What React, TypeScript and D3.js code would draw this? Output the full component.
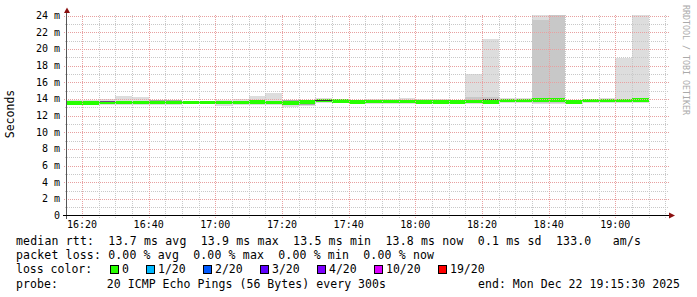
import React from "react";
import * as d3 from "d3";

const W = 697;
const H = 297;

const startTime = Date.UTC(2025, 11, 22, 16, 15, 30);
const endTime = Date.UTC(2025, 11, 22, 19, 15, 30);
const firstBar = Date.UTC(2025, 11, 22, 16, 15, 0);
const STEP = 300000;

// median rtt per 5-minute step (ms)
const medians = [13.52, 13.52, 13.55, 13.55, 13.55, 13.55, 13.55, 13.55, 13.55, 13.55, 13.58, 13.6, 13.55, 13.5, 13.65, 13.82, 13.75, 13.6, 13.7, 13.7, 13.7, 13.65, 13.65, 13.65, 13.7, 13.65, 13.8, 13.82, 13.85, 13.85, 13.6, 13.8, 13.82, 13.82, 13.85];
// outer smoke (min / max ping)
const outerLo = [13.3, 13.3, 13.3, 13.3, 13.3, 13.3, 13.3, 13.35, 13.35, 13.15, 13.25, 13.3, 13.3, 13.04, 13.16, 13.45, 13.45, 13.4, 13.42, 13.4, 13.42, 13.42, 13.42, 13.42, 13.42, 13.42, 13.5, 13.45, 13.36, 13.4, 13.4, 13.45, 13.45, 13.45, 13.45];
const outerHi = [13.92, 13.92, 14.04, 14.36, 14.24, 13.92, 13.92, 13.68, 13.68, 13.92, 14.04, 14.3, 14.68, 13.92, 13.92, 14.15, 14.02, 13.92, 14.04, 14.04, 14.12, 14.04, 14.04, 13.92, 17.04, 21.24, 14.12, 14.12, 26, 26, 13.92, 14.04, 14.16, 18.9, 26];
// second smoke layer
const midLo = [13.4, 13.4, 13.42, 13.42, 13.42, 13.42, 13.42, 13.45, 13.45, 13.38, 13.4, 13.38, 13.42, 13.35, 13.38, 13.6, 13.55, 13.45, 13.5, 13.5, 13.5, 13.5, 13.5, 13.5, 13.5, 13.5, 13.6, 13.6, 13.5, 13.5, 13.5, 13.6, 13.6, 13.6, 13.6];
const midHi = [13.7, 13.7, 13.75, 13.75, 13.8, 13.8, 13.8, 13.65, 13.65, 13.72, 13.75, 13.75, 13.75, 13.75, 13.8, 13.92, 13.88, 13.78, 13.85, 13.85, 13.85, 13.82, 13.82, 13.8, 14.24, 14.2, 13.95, 13.95, 23.5, 26, 13.78, 13.92, 13.95, 13.95, 14.0];
// inner (darkest) smoke layer
const innerLo = [13.52, 13.52, 13.55, 13.55, 13.55, 13.55, 13.55, 13.55, 13.55, 13.55, 13.58, 13.35, 13.55, 13.5, 13.3, 13.82, 13.75, 13.6, 13.7, 13.7, 13.7, 13.65, 13.65, 13.65, 13.7, 13.65, 13.8, 13.82, 13.85, 13.85, 13.6, 13.8, 13.82, 13.82, 13.85];
const innerHi = [13.52, 13.52, 13.55, 13.55, 13.55, 13.92, 13.9, 13.55, 13.55, 13.55, 13.58, 13.6, 13.55, 13.92, 13.65, 13.82, 13.75, 13.6, 13.7, 13.7, 13.7, 13.65, 13.65, 13.65, 13.7, 13.98, 13.8, 13.82, 13.85, 13.85, 13.6, 13.8, 13.82, 13.82, 13.85];
// thin dark lines seen inside a few steps
const darkLines: (number | null)[] = [null, null, 13.7, null, null, null, null, null, null, null, null, null, null, null, null, 13.82, null, null, null, null, null, null, null, null, null, 13.98, null, null, null, null, null, null, null, null, null];

const yTicks = [0, 2, 4, 6, 8, 10, 12, 14, 16, 18, 20, 22, 24];
const yMinor = [1, 3, 5, 7, 9, 11, 13, 15, 17, 19, 21, 23];

const lossLabels = ["0", "1/20", "2/20", "3/20", "4/20", "10/20", "19/20"];
const lossColors = ["#26ff00", "#00b8ff", "#0059ff", "#5e00ff", "#7e00ff", "#dd00ff", "#ff0000"];

const line1 = "median rtt:  13.7 ms avg  13.9 ms max  13.5 ms min  13.8 ms now  0.1 ms sd  133.0   am/s";
const line2 = "packet loss: 0.00 % avg  0.00 % max  0.00 % min  0.00 % now";
const line3 = "loss color:";
const line4 = "probe:       20 ICMP Echo Pings (56 Bytes) every 300s";
const endText = "end: Mon Dec 22 19:15:30 2025";

const FONT = "'DejaVu Sans Mono', monospace";
const nb = (s: string) => s.replace(/ /g, "\u00a0");

export default function App() {
  const x = d3.scaleUtc().domain([new Date(startTime), new Date(endTime)]).range([67, 667]);
  const y = d3.scaleLinear().domain([0, 24]).range([215.5, 15.5]);
  const fmt = d3.utcFormat("%H:%M");
  const majors = d3.utcMinute.every(20)!.range(new Date(startTime), new Date(endTime));
  const minors = d3.utcMinute.every(5)!.range(new Date(startTime), new Date(endTime + 1));

  const bars = medians.map((m, i) => {
    const t0 = new Date(firstBar + i * STEP);
    const t1 = new Date(firstBar + (i + 1) * STEP);
    const x0 = Math.max(x(t0), 67);
    const x1 = x(t1);
    return { i, x0, w: x1 - x0, m };
  });

  const [x0d, x1d] = x.range();
  const band = y(0) - y(0.21);
  const LF = 11.5;
  const adv = 7.0;
  const boxX: number[] = [];
  let cur = 110;
  lossLabels.forEach((l) => {
    boxX.push(cur);
    cur = cur + 11.5 + l.length * adv + 17.5;
  });

  return (
    <svg width={W} height={H} style={{ position: "absolute", left: 0, top: 0, background: "#fff" }} fontFamily={FONT}>
      <rect x={0} y={0} width={W} height={H} fill="#fff" />
      <defs>
        <clipPath id="plot">
          <rect x={67} y={15} width={600} height={200.5} />
        </clipPath>
      </defs>
      <g clipPath="url(#plot)" shapeRendering="crispEdges">
        {bars.map((b) => (
          <rect key={"o" + b.i} x={b.x0} width={b.w} y={y(outerHi[b.i])} height={y(outerLo[b.i]) - y(outerHi[b.i])} fill="#dddddd" />
        ))}
        {bars.map((b) => (
          <rect key={"m" + b.i} x={b.x0} width={b.w} y={y(midHi[b.i])} height={y(midLo[b.i]) - y(midHi[b.i])} fill="#c8c8c8" />
        ))}
        {bars.map((b) => (
          <rect key={"n" + b.i} x={b.x0} width={b.w} y={y(innerHi[b.i])} height={Math.max(0, y(innerLo[b.i]) - y(innerHi[b.i]))} fill="#a8a8a8" />
        ))}
        {bars.map((b) => (
          <rect key={"g" + b.i} x={b.x0} width={b.w} y={y(b.m) - band} height={band * 2} fill={lossColors[0]} />
        ))}
        {bars.map((b) =>
          darkLines[b.i] != null ? (
            <rect key={"d" + b.i} x={b.x0} width={b.w} y={y(darkLines[b.i] as number) - 0.5} height={1} fill={b.i === 2 ? "#6a4a80" : "#333"} />
          ) : null
        )}
      </g>
      {/* grid */}
      <g strokeDasharray="1,1" strokeWidth={1} fill="none">
        {yMinor.map((v) => (
          <line key={"ym" + v} x1={x0d - 2} x2={x1d + 2} y1={Math.round(y(v)) + 0.5} y2={Math.round(y(v)) + 0.5} stroke="#c8c8c8" />
        ))}
        {minors.map((t) => (
          <line key={"xm" + t.getTime()} x1={Math.round(x(t)) + 0.5} x2={Math.round(x(t)) + 0.5} y1={15} y2={218} stroke="#c8c8c8" />
        ))}
        {yTicks.filter((v) => v > 0).map((v) => (
          <line key={"yM" + v} x1={x0d - 3} x2={x1d + 3} y1={Math.round(y(v)) + 0.5} y2={Math.round(y(v)) + 0.5} stroke="#e8a0a0" />
        ))}
        {majors.map((t) => (
          <line key={"xM" + t.getTime()} x1={Math.round(x(t)) + 0.5} x2={Math.round(x(t)) + 0.5} y1={15} y2={219} stroke="#e8a0a0" />
        ))}
      </g>
      {/* axes */}
      <g shapeRendering="crispEdges">
        <line x1={66.5} x2={66.5} y1={12} y2={219} stroke="#555" />
        <line x1={63} x2={670} y1={215.5} y2={215.5} stroke="#000" />
      </g>
      <path d="M67,7.5 L70,13 L64,13 Z" fill="#8b1010" />
      <path d="M675,215.5 L669,212.5 L669,218.5 Z" fill="#8b1010" />
      {/* y labels */}
      {yTicks.map((v) => (
        <text key={"yl" + v} x={60} y={y(v) + 3.5} fontSize={10} textAnchor="end" fill="#000">
          {nb(v === 0 ? "0" : `${v} m`)}
        </text>
      ))}
      {majors.map((t) => (
        <text key={"xl" + t.getTime()} x={x(t)} y={228} fontSize={10} textAnchor="middle" fill="#000">
          {fmt(t)}
        </text>
      ))}
      <text transform="translate(14,114) rotate(-90)" fontSize={11.5} textAnchor="middle" fill="#000">
        Seconds
      </text>
      <text transform="translate(683,5) rotate(90)" fontSize={8.3} fill="#aaaaaa">
        {nb("RRDTOOL / TOBI OETIKER")}
      </text>
      {/* legend */}
      <g fontSize={LF} fill="#000">
        <text x={16} y={245} textLength={625} lengthAdjust="spacing">{nb(line1)}</text>
        <text x={16} y={259} textLength={418} lengthAdjust="spacing">{nb(line2)}</text>
        <text x={16} y={273}>{nb(line3)}</text>
        {lossLabels.map((l, i) => (
          <g key={"lg" + i}>
            <rect x={boxX[i] + 0.5} y={265.5} width={8} height={8} fill={lossColors[i]} stroke="#000" strokeWidth={1} />
            <text x={boxX[i] + 12} y={273}>{l}</text>
          </g>
        ))}
        <text x={16} y={287.5} textLength={370} lengthAdjust="spacing">{nb(line4)}</text>
        <text x={478} y={287.5} textLength={202} lengthAdjust="spacing">{nb(endText)}</text>
      </g>
    </svg>
  );
}
